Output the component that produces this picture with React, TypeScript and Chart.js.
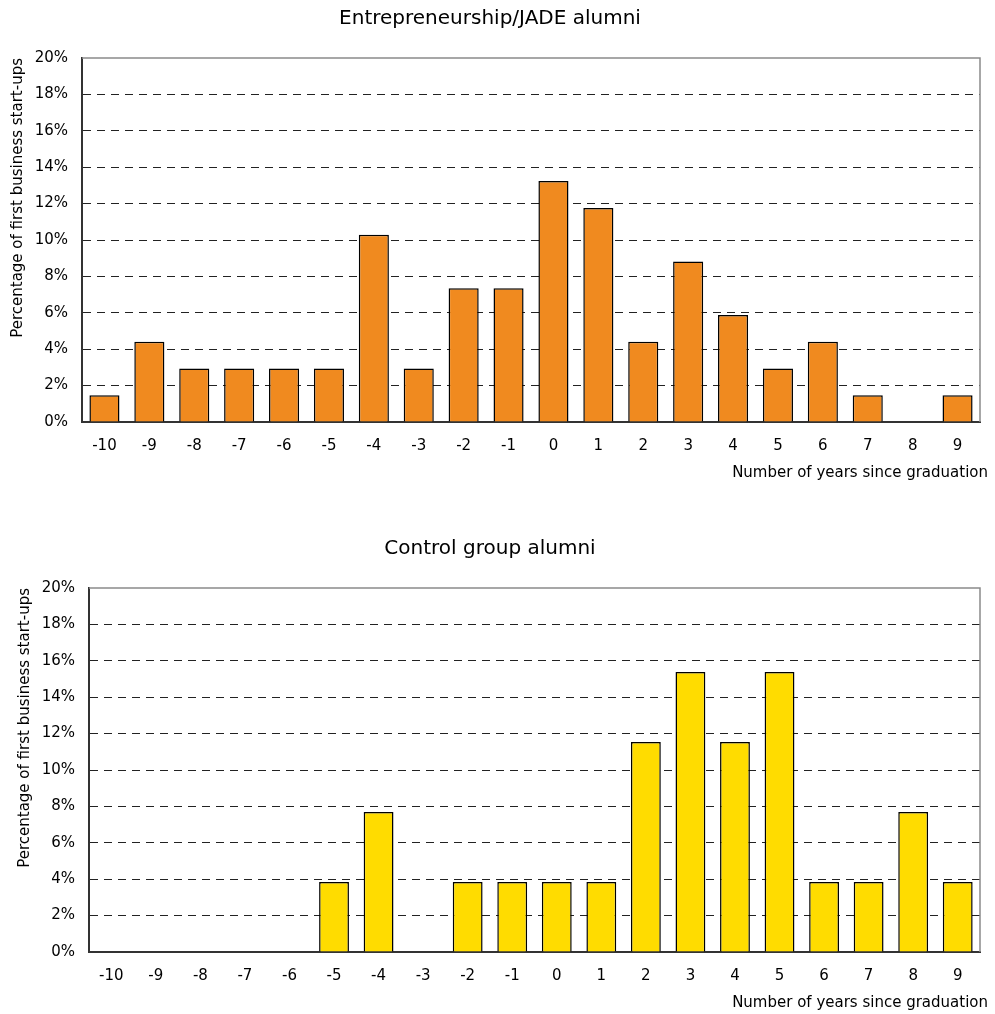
import React, { useEffect, useRef } from 'react';
import { Chart, registerables } from 'chart.js';

Chart.register(...registerables);

const YEARS = ['-10', '-9', '-8', '-7', '-6', '-5', '-4', '-3', '-2', '-1', '0', '1', '2', '3', '4', '5', '6', '7', '8', '9'];
const JADE_VALUES = [1.47, 4.41, 2.94, 2.94, 2.94, 2.94, 10.29, 2.94, 7.35, 7.35, 13.24, 11.76, 4.41, 8.82, 5.88, 2.94, 4.41, 1.47, 0, 1.47];
const CONTROL_VALUES = [0, 0, 0, 0, 0, 3.85, 7.69, 0, 3.85, 3.85, 3.85, 3.85, 11.54, 15.38, 11.54, 15.38, 3.85, 3.85, 7.69, 3.85];
const Y_MIN = 0;
const Y_MAX = 20;
const Y_STEP = 2;

const TITLE_TOP = 'Entrepreneurship/JADE alumni';
const TITLE_BOTTOM = 'Control group alumni';
const Y_TITLE = 'Percentage of first business start-ups';
const X_TITLE = 'Number of years since graduation';

const FONT = '"DejaVu Sans", Verdana, sans-serif';

const frame = {
  id: 'frame',
  afterDatasetsDraw(chart: any) {
    const { ctx, chartArea } = chart;
    ctx.save();
    ctx.strokeStyle = '#8a8a8a';
    ctx.lineWidth = 1.5;
    ctx.beginPath();
    ctx.moveTo(chartArea.left, chartArea.top);
    ctx.lineTo(chartArea.right, chartArea.top);
    ctx.lineTo(chartArea.right, chartArea.bottom);
    ctx.stroke();
    // x axis title, right-aligned slightly past the plot edge
    ctx.fillStyle = '#000';
    ctx.font = '15px ' + FONT;
    ctx.textAlign = 'right';
    ctx.textBaseline = 'middle';
    ctx.fillText(X_TITLE, chartArea.right + 8, chartArea.bottom + 51);
    ctx.restore();
  },
};

function BarPanel(props: { title: string; values: number[]; color: string; yWidth: number; yTitlePad: number }) {
  const ref = useRef<HTMLCanvasElement | null>(null);
  useEffect(() => {
    if (!ref.current) return;
    const chart = new Chart(ref.current, {
      type: 'bar',
      data: {
        labels: YEARS,
        datasets: [
          {
            data: props.values,
            backgroundColor: props.color,
            borderColor: '#000',
            borderWidth: 1.5,
            borderSkipped: 'bottom',
            barPercentage: 0.67,
            categoryPercentage: 1,
          },
        ],
      },
      options: {
        responsive: false,
        animation: false,
        layout: { padding: { left: 0, right: 15, top: 0, bottom: 0 } },
        plugins: {
          legend: { display: false },
          tooltip: { enabled: false },
          title: {
            display: true,
            text: props.title,
            color: '#000',
            font: { family: FONT, size: 20, weight: 'normal', lineHeight: 1.2 },
            padding: { top: 7, bottom: 27 },
          },
        },
        scales: {
          x: {
            grid: { display: false, drawTicks: false },
            border: { display: true, color: '#333', width: 2 },
            ticks: { color: '#000', font: { family: FONT, size: 15 }, padding: 15, maxRotation: 0, autoSkip: false },
            title: { display: false },
            afterFit: (scale: any) => {
              scale.height = 62;
            },
          },
          y: {
            min: Y_MIN,
            max: Y_MAX,
            ticks: {
              stepSize: Y_STEP,
              color: '#000',
              font: { family: FONT, size: 15 },
              padding: 14,
              callback: (v: any) => v + '%',
            },
            grid: {
              drawTicks: false,
              color: (c: any) => (c.tick && (c.tick.value === Y_MIN || c.tick.value === Y_MAX) ? 'rgba(0,0,0,0)' : '#222'),
              lineWidth: 1,
            },
            border: { display: true, color: '#333', width: 2, dash: [8, 6] },
            title: {
              display: true,
              text: Y_TITLE,
              align: 'end',
              color: '#000',
              font: { family: FONT, size: 15 },
              padding: { top: props.yTitlePad, bottom: 0 },
            },
            afterFit: (scale: any) => {
              scale.width = props.yWidth;
            },
          },
        },
      },
      plugins: [frame],
    } as any);
    return () => chart.destroy();
  }, []);
  return <canvas ref={ref} width={995} height={484} style={{ display: 'block' }} />;
}

export default function App() {
  return (
    <div style={{ position: 'absolute', left: 0, top: 0, width: 995, height: 1014, background: '#fff' }}>
      <div style={{ position: 'absolute', left: 0, top: 0 }}>
        <BarPanel title={TITLE_TOP} values={JADE_VALUES} color="#F08A1F" yWidth={82} yTitlePad={9} />
      </div>
      <div style={{ position: 'absolute', left: 0, top: 530 }}>
        <BarPanel title={TITLE_BOTTOM} values={CONTROL_VALUES} color="#FFDC00" yWidth={89} yTitlePad={16} />
      </div>
    </div>
  );
}
